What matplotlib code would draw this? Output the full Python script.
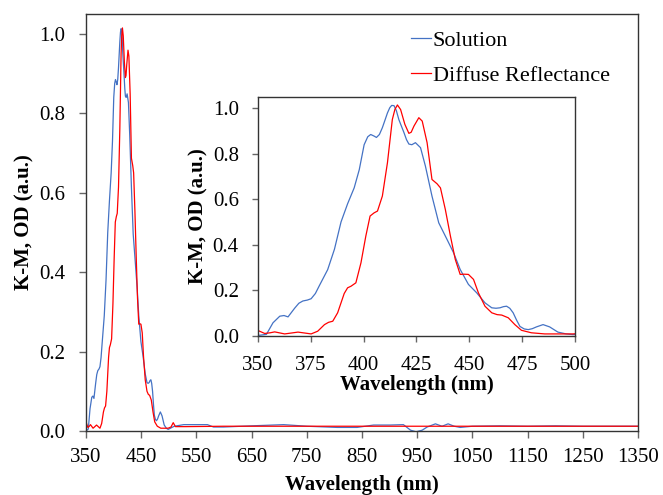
import matplotlib
matplotlib.use("Agg")
import matplotlib.pyplot as plt

# ---- data ----
sol_wl = [350, 354.2, 357.3, 360.5, 362.5, 364.4, 367.5, 369.5, 371.4, 373.5, 375.3, 377.3,
          379.2, 383.1, 386.3, 389.4, 392.5, 395.6, 398.0, 400.3, 402.0, 403.4, 405.0, 406.1,
          407.5, 408.9, 410.2, 411.3, 412.4, 413.3, 414.4, 415.5, 416.7, 419.1, 420.3, 421.4,
          422.8, 424.5, 426.9, 429.2, 432.3, 435.5, 439.4, 442.5, 445.6, 449.5, 453.4, 457.3,
          460.5, 462.5, 464.4, 466.0, 467.5, 469.0, 470.6, 472.2, 473.8, 475.8, 477.7, 479.6,
          481.6, 484.7, 487.8, 491.7, 495.6, 498.8,
          510, 527, 550, 570, 581, 599, 650, 708, 750, 805, 841, 871, 901, 925, 938, 948,
          959, 968, 983, 995, 1006, 1017, 1028, 1050, 1100, 1150, 1200, 1250, 1300, 1350]
sol_val = [0.0, 0.005, 0.056, 0.085, 0.088, 0.082, 0.12, 0.142, 0.152, 0.156, 0.162, 0.185,
           0.22, 0.29, 0.38, 0.50, 0.58, 0.65, 0.73, 0.84, 0.875, 0.885, 0.878, 0.872,
           0.885, 0.915, 0.95, 0.98, 1.003, 1.013, 1.012, 0.99, 0.95, 0.893, 0.862, 0.843,
           0.84, 0.849, 0.827, 0.746, 0.614, 0.496, 0.423, 0.364, 0.291, 0.225, 0.188, 0.144,
           0.122, 0.12, 0.122, 0.127, 0.129, 0.12, 0.10, 0.068, 0.040, 0.029, 0.026, 0.030,
           0.038, 0.048, 0.038, 0.015, 0.007, 0.004,
           0.012, 0.016, 0.016, 0.016, 0.010, 0.010, 0.013, 0.016, 0.012, 0.009, 0.009, 0.015, 0.015,
           0.016, 0.002, -0.002, 0.002, 0.010, 0.018, 0.012, 0.018, 0.012, 0.009, 0.012,
           0.013, 0.012, 0.013, 0.012, 0.012, 0.012]

dr_wl = [350, 353.4, 356.0, 358.1, 362.8, 366.0, 369.1, 375.3, 378.4, 381.6, 383.5, 385.5,
         387.8, 390.9, 392.5, 394.1, 396.4, 398.8, 401.1, 403.1, 405.0, 406.6, 408.9, 411.3,
         413.6, 414.8, 416.0, 417.5, 419.5, 421.4, 422.5, 423.8, 426.1, 427.7, 430.0, 432.3,
         434.7, 436.3, 438.6, 441.0, 443.3, 445.6, 447.5, 449.5, 451.9, 454.2, 457.3, 460.5,
         463.0, 465.2, 468.3, 471.4, 474.5, 479.2, 485.5, 498.8,
         504, 508, 512, 530, 600, 800, 1000, 1200, 1350]
dr_val = [0.023, 0.009, 0.012, 0.016, 0.007, 0.011, 0.015, 0.007, 0.019, 0.048, 0.058, 0.063,
          0.10, 0.185, 0.21, 0.217, 0.232, 0.32, 0.438, 0.526, 0.54, 0.548, 0.614, 0.761,
          0.951, 0.995, 1.015, 0.995, 0.93, 0.89, 0.895, 0.922, 0.959, 0.944, 0.849, 0.687,
          0.668, 0.65, 0.555, 0.438, 0.335, 0.269, 0.27, 0.269, 0.247, 0.188, 0.129, 0.10,
          0.092, 0.09, 0.078, 0.048, 0.023, 0.012, 0.007, 0.007,
          0.010, 0.021, 0.011, 0.011, 0.012, 0.012, 0.012, 0.012, 0.012]

main_xticks = [350, 450, 550, 650, 750, 850, 950, 1050, 1150, 1250, 1350]
inset_xticks = [350, 375, 400, 425, 450, 475, 500]
yticks = [0.0, 0.2, 0.4, 0.6, 0.8, 1.0]
labels = ["Solution", "Diffuse Reflectance"]

BLUE = "#4472C4"
RED = "#FF0000"
plt.rcParams['font.family'] = ['Liberation Serif', 'DejaVu Serif']
plt.rcParams['font.size'] = 15

fig = plt.figure(figsize=(6.63, 4.95), dpi=100)

def style(ax, ticklen, pad):
    for s in ax.spines.values():
        s.set_color("#333333")
        s.set_linewidth(1.0)
    ax.tick_params(direction='out', length=ticklen, width=1.0, color="#666666",
                   labelsize=15, top=False, right=False)
    ax.tick_params(axis='y', pad=pad)
    ax.set_yticks(yticks)
    ax.set_yticklabels([f"{v:.1f}" for v in yticks])

ax = fig.add_axes([0.1297, 0.1293, 0.8326, 0.8424])
ax.plot(sol_wl, sol_val, color=BLUE, lw=0.9, label=labels[0])
ax.plot(dr_wl, dr_val, color=RED, lw=0.9, label=labels[1])
ax.set_xlim(350, 1350)
ax.set_ylim(0, 1.05)
ax.set_xticks(main_xticks)
style(ax, 5, 10)
ax.tick_params(axis='x', pad=7)
ax.set_xlabel("Wavelength (nm)", fontweight='bold', labelpad=6)
ax.set_ylabel("K-M, OD (a.u.)", fontweight='bold', labelpad=3)
leg = ax.legend(loc='upper left', bbox_to_anchor=(0.572, 0.982), frameon=False,
                handlelength=0.9, handletextpad=0.1, labelspacing=0.65,
                borderaxespad=0, fontsize=16)

ins = fig.add_axes([0.3884, 0.3222, 0.4796, 0.4818])
ins.plot(sol_wl, sol_val, color=BLUE, lw=0.9)
ins.plot(dr_wl, dr_val, color=RED, lw=0.9)
ins.set_xlim(350, 500)
ins.set_ylim(0, 1.05)
ins.set_xticks(inset_xticks)
style(ins, 4.5, 9)
ins.tick_params(axis='x', pad=10)
ins.set_xlabel("Wavelength (nm)", fontweight='bold', labelpad=0)
ins.set_ylabel("K-M, OD (a.u.)", fontweight='bold', labelpad=3)

fig.savefig("out.png", dpi=100)
